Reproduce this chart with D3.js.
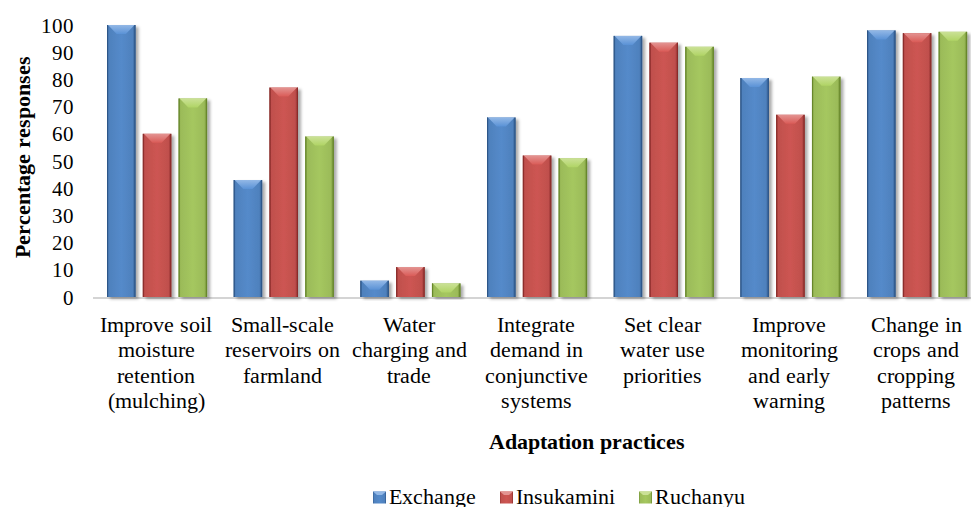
<!DOCTYPE html>
<html>
<head>
<meta charset="utf-8">
<script src="https://cdn.jsdelivr.net/npm/d3@7"></script>
<style>
  @font-face {
    font-family: "ChartSerif";
    font-weight: 400;
    src: local("Liberation Serif"), local("LiberationSerif"), local("Liberation Serif Regular"),
         local("Times New Roman"), local("DejaVu Serif"), local("DejaVuSerif");
  }
  @font-face {
    font-family: "ChartSerif";
    font-weight: 700;
    src: local("Liberation Serif Bold"), local("LiberationSerif-Bold"),
         local("Times New Roman Bold"), local("DejaVu Serif Bold"), local("DejaVuSerif-Bold");
  }
  html, body { margin: 0; padding: 0; background: #ffffff; }
  svg text { font-family: "ChartSerif", "Liberation Serif", "Times New Roman", serif; }
</style>
</head>
<body>
<div id="chart"></div>
<script>
// Adaptation practices and the share of respondents in each area
const categories = [
  "Improve soil moisture retention (mulching)",
  "Small-scale reservoirs on farmland",
  "Water charging and trade",
  "Integrate demand in conjunctive systems",
  "Set clear water use priorities",
  "Improve monitoring and early warning",
  "Change in crops and cropping patterns"
];
const categoryLines = [
  ["Improve soil", "moisture", "retention", "(mulching)"],
  ["Small-scale", "reservoirs on", "farmland"],
  ["Water", "charging and", "trade"],
  ["Integrate", "demand in", "conjunctive", "systems"],
  ["Set clear", "water use", "priorities"],
  ["Improve", "monitoring", "and early", "warning"],
  ["Change in", "crops and", "cropping", "patterns"]
];
const seriesNames = ["Exchange", "Insukamini", "Ruchanyu"];
const exchange   = [100, 43, 6, 66, 96, 80.5, 98];
const insukamini = [60, 77, 11, 52, 93.5, 67, 97];
const ruchanyu   = [73, 59, 5, 51, 92, 81, 97.5];
const seriesValues = [exchange, insukamini, ruchanyu];
const yTicks = [0, 10, 20, 30, 40, 50, 60, 70, 80, 90, 100];

const palette = [
  { base: "#4f81bd", light: "#93b8e6", dark: "#2d5688" },
  { base: "#c0504d", light: "#e39492", dark: "#8a2c2a" },
  { base: "#9bbb59", light: "#cbe197", dark: "#67862b" }
];

const W = 971, H = 507;
const svg = d3.select("#chart").append("svg")
  .attr("width", W).attr("height", H)
  .style("display", "block");

const defs = svg.append("defs");
const shadow = defs.append("filter").attr("id", "barShadow")
  .attr("x", "-30%").attr("y", "-10%").attr("width", "160%").attr("height", "130%");
shadow.append("feDropShadow")
  .attr("dx", 3).attr("dy", 2).attr("stdDeviation", 1.8)
  .attr("flood-color", "#000").attr("flood-opacity", 0.33);

palette.forEach((p, i) => {
  const g = defs.append("linearGradient").attr("id", "body" + i)
    .attr("x1", "0%").attr("x2", "100%").attr("y1", "0%").attr("y2", "0%");
  [[0, p.dark], [0.07, p.base], [0.5, d3.color(p.base).brighter(0.18).formatHex()], [0.9, p.base], [1, p.dark]]
    .forEach(([o, c]) => g.append("stop").attr("offset", o).attr("stop-color", c));
  const t = defs.append("linearGradient").attr("id", "bevel" + i)
    .attr("x1", "0%").attr("x2", "0%").attr("y1", "0%").attr("y2", "100%");
  [[0, p.light], [1, d3.color(p.base).brighter(0.35).formatHex()]]
    .forEach(([o, c]) => t.append("stop").attr("offset", o).attr("stop-color", c));
});

const x = d3.scaleBand().domain(categories).range([93.3, 980]).paddingInner(0).paddingOuter(0);
const xs = d3.scaleBand().domain(seriesNames).range([13.7, 113.8]).paddingInner(0.204).paddingOuter(0);
const y = d3.scaleLinear().domain([0, 100]).range([297, 25]);

// y axis tick labels (no axis line)
const yAxis = d3.axisLeft(y).tickValues(yTicks).tickSize(0).tickPadding(0);
const yg = svg.append("g").attr("transform", "translate(74,0)").call(yAxis)
  .attr("font-family", null).attr("font-size", null);
yg.select(".domain").remove();
yg.selectAll("text")
  .attr("font-size", 21).attr("fill", "#000").attr("dy", "0.34em");

// category axis baseline
svg.append("line")
  .attr("x1", 93).attr("x2", W).attr("y1", y(0) + 1).attr("y2", y(0) + 1)
  .attr("stroke", "#d4d4d4").attr("stroke-width", 2);

// bars
const groups = svg.append("g").selectAll("g")
  .data(categories).join("g")
  .attr("transform", d => `translate(${x(d)},0)`);

groups.each(function (cat, ci) {
  const g = d3.select(this);
  seriesNames.forEach((s, si) => {
    const v = seriesValues[si][ci];
    const bx = xs(s), bw = xs.bandwidth();
    const top = y(v), bh = y(0) - top;
    const bar = g.append("g");
    bar.append("rect")
      .attr("x", bx).attr("y", top).attr("width", bw).attr("height", bh)
      .attr("fill", `url(#body${si})`).attr("filter", "url(#barShadow)");
    const b = Math.min(9, bh);
    bar.append("polygon")
      .attr("points", [[bx + 1, top], [bx + bw - 1, top], [bx + bw * 0.66, top + b], [bx + bw * 0.34, top + b]].map(p => p.join(",")).join(" "))
      .attr("fill", `url(#bevel${si})`);
    bar.append("line")
      .attr("x1", bx + 0.5).attr("x2", bx + 0.5).attr("y1", top).attr("y2", y(0))
      .attr("stroke", palette[si].dark).attr("stroke-width", 1);
    bar.append("line")
      .attr("x1", bx + bw - 0.5).attr("x2", bx + bw - 0.5).attr("y1", top).attr("y2", y(0))
      .attr("stroke", palette[si].dark).attr("stroke-width", 1);
  });
});

// category labels
const lab = svg.append("g").selectAll("text")
  .data(categories).join("text")
  .attr("text-anchor", "middle")
  .attr("font-size", 22).attr("fill", "#000")
  .attr("transform", d => `translate(${x(d) + x.bandwidth() / 2 - 0.5},332)`);
lab.each(function (d, i) {
  d3.select(this).selectAll("tspan").data(categoryLines[i]).join("tspan")
    .attr("x", 0).attr("dy", (l, j) => j === 0 ? 0 : 25.3).text(l => l);
});

// axis titles
svg.append("text")
  .attr("x", 587).attr("y", 449)
  .attr("text-anchor", "middle").attr("font-weight", "bold").attr("font-size", 22)
  .text("Adaptation practices");
svg.append("text")
  .attr("transform", "translate(22.5,157) rotate(-90)")
  .attr("dy", "0.35em")
  .attr("text-anchor", "middle").attr("font-weight", "bold").attr("font-size", 22)
  .text("Percentage responses");

// legend
const legend = svg.append("g");
let lx = 373;
seriesNames.forEach((s, i) => {
  const item = legend.append("g");
  item.append("rect").attr("x", lx).attr("y", 491.5).attr("width", 13).attr("height", 12)
    .attr("fill", `url(#body${i})`);
  item.append("polygon")
    .attr("points", [[lx, 491.5], [lx + 13, 491.5], [lx + 9, 495], [lx + 4, 495]].map(p => p.join(",")).join(" "))
    .attr("fill", palette[i].light);
  const t = item.append("text")
    .attr("x", lx + 16).attr("y", 503.5)
    .attr("font-size", 22).attr("fill", "#000").text(s);
  lx += 16 + t.node().getComputedTextLength() + 24;
});
</script>
</body>
</html>
